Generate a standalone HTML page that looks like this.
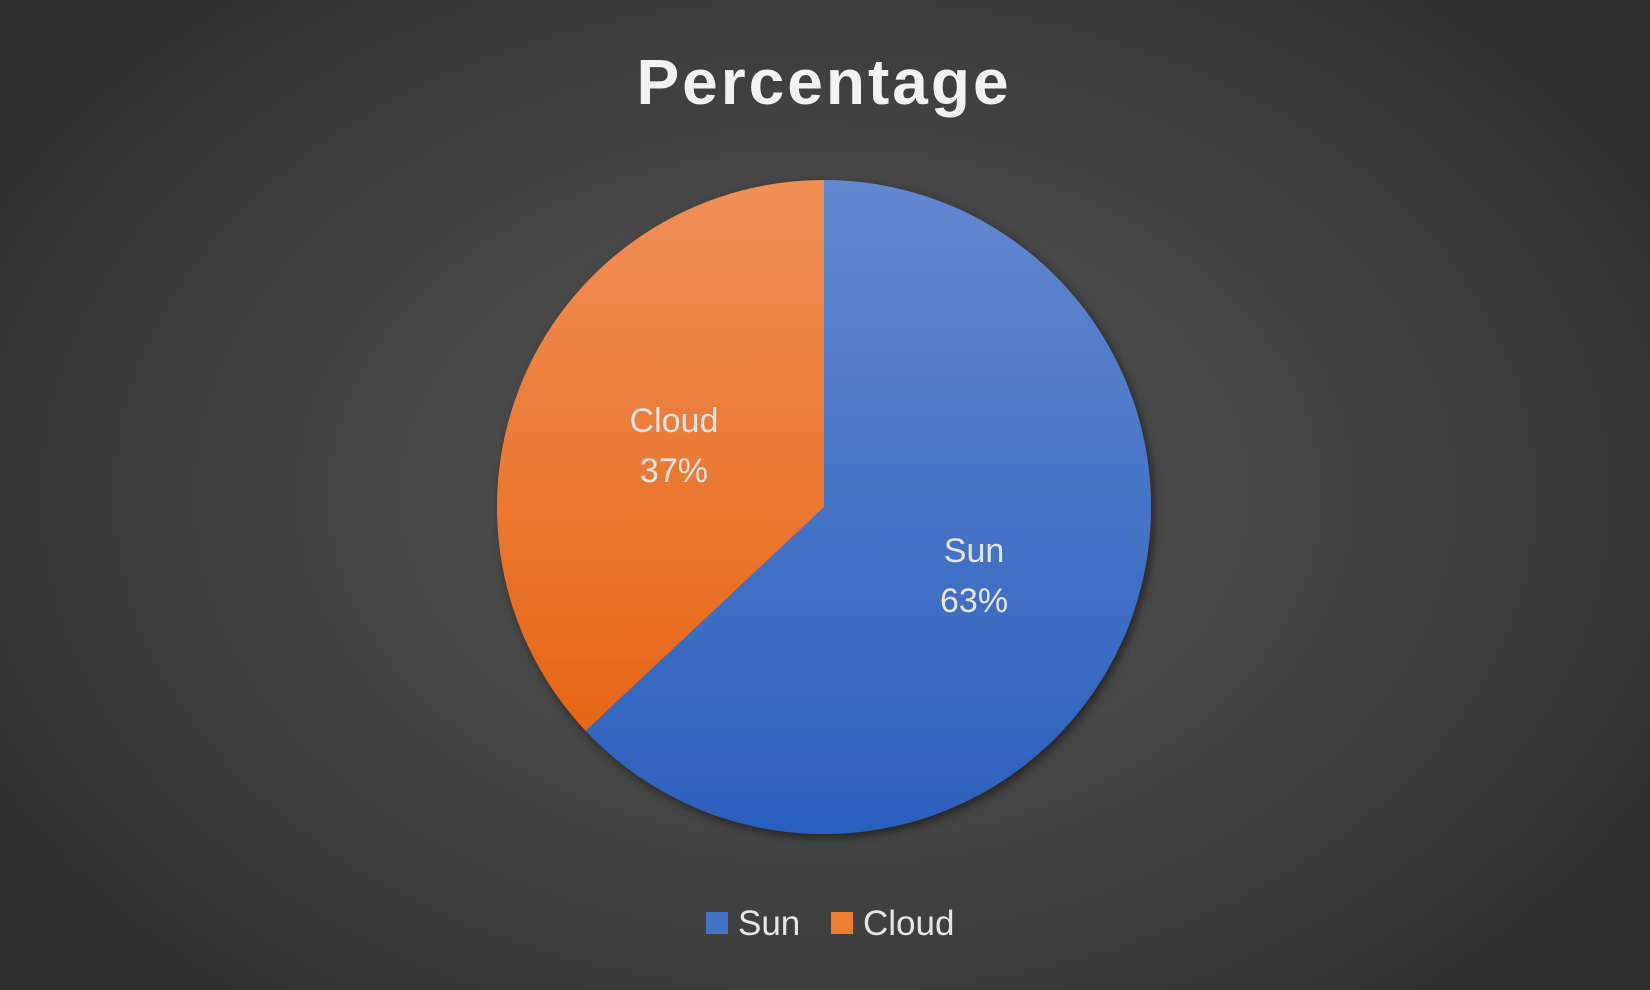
<!DOCTYPE html>
<html><head><meta charset="utf-8">
<style>
html,body{margin:0;padding:0;}
body{width:1650px;height:990px;overflow:hidden;background:radial-gradient(ellipse 60% 70% at 50% 50%,#525252 0%,#474747 45%,#2e2e2e 100%);font-family:"Liberation Sans",sans-serif;}
svg{display:block;}
</style></head>
<body>
<svg id="chart" width="1650" height="990">
<defs>
<linearGradient id="gBlue" x1="0" y1="0" x2="0" y2="1"><stop offset="0" stop-color="#6388d0"/><stop offset="1" stop-color="#2b60bd"/></linearGradient>
<linearGradient id="gOrange" x1="0" y1="0" x2="0" y2="1"><stop offset="0" stop-color="#f09058"/><stop offset="1" stop-color="#e66616"/></linearGradient>
<filter id="sh" x="-20%" y="-20%" width="140%" height="140%"><feDropShadow dx="3" dy="4" stdDeviation="5" flood-color="#000" flood-opacity="0.5"/></filter>
</defs>
<text x="824" y="104" text-anchor="middle" font-size="64" font-weight="bold" fill="#f2f2f2" letter-spacing="3">Percentage</text>
<g id="slices" filter="url(#sh)"></g>
<g id="labels"></g>
<g>
<rect x="706" y="912" width="22" height="22" fill="#4472c4"/>
<text x="738" y="935" font-size="35" fill="#e6e6e6">Sun</text>
<rect x="831" y="912" width="22" height="22" fill="#ed7d31"/>
<text x="863" y="935" font-size="35" fill="#e6e6e6">Cloud</text>
</g>
</svg>
<script>
const categories = ["Sun", "Cloud"];
const values = [63, 37];
const fills = ["url(#gBlue)", "url(#gOrange)"];
const cx = 824, cy = 507, r = 327;
const NS = "http://www.w3.org/2000/svg";
const total = values.reduce((a, b) => a + b, 0);
const sg = document.getElementById("slices"), lg = document.getElementById("labels");
let a0 = 0;
values.forEach((v, i) => {
  const a1 = a0 + v / total * Math.PI * 2;
  const p = (a) => [cx + r * Math.sin(a), cy - r * Math.cos(a)];
  const [x0, y0] = p(a0), [x1, y1] = p(a1);
  const large = (a1 - a0) > Math.PI ? 1 : 0;
  const path = document.createElementNS(NS, "path");
  path.setAttribute("d", `M${cx},${cy} L${x0},${y0} A${r},${r} 0 ${large} 1 ${x1},${y1} Z`);
  path.setAttribute("fill", fills[i]);
  
  
  sg.appendChild(path);
  const am = (a0 + a1) / 2, lr = r * 0.5;
  const lx = cx + lr * Math.sin(am), ly = cy - lr * Math.cos(am);
  const t = document.createElementNS(NS, "text");
  t.setAttribute("x", lx); t.setAttribute("y", ly - 10);
  t.setAttribute("text-anchor", "middle"); t.setAttribute("font-size", "34"); t.setAttribute("fill", "#e4e4e4");
  
  
  const s1 = document.createElementNS(NS, "tspan"); s1.setAttribute("x", lx); s1.textContent = categories[i];
  const s2 = document.createElementNS(NS, "tspan"); s2.setAttribute("x", lx); s2.setAttribute("dy", "50");
  s2.textContent = Math.round(v / total * 100) + "%";
  t.appendChild(s1); t.appendChild(s2); lg.appendChild(t);
  a0 = a1;
});
</script>
</body></html>
